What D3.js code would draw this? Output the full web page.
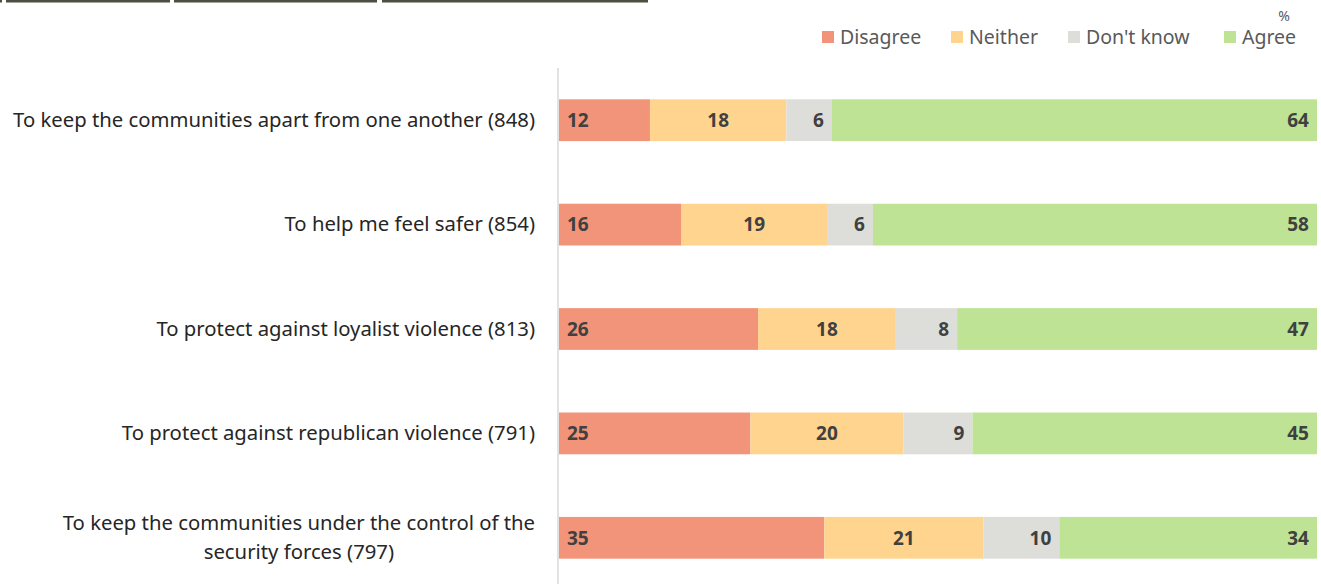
<!DOCTYPE html>
<html>
<head>
<meta charset="utf-8">
<title>Stacked bars</title>
<style>
  body { margin: 0; background: #fff; }
  svg { display: block; font-family: "Noto Sans", "Open Sans", sans-serif; }
  .cat { fill: #262626; font-size: 20.3px; }
  .val { fill: #404040; font-size: 19px; font-weight: bold; }
  .leg { fill: #595959; font-size: 19.5px; }
</style>
</head>
<body>
<script src="https://cdnjs.cloudflare.com/ajax/libs/d3/7.8.5/d3.min.js"></script>
<script>

// Data
var categories = [
  ["To keep the communities apart from one another (848)"],
  ["To help me feel safer (854)"],
  ["To protect against loyalist violence (813)"],
  ["To protect against republican violence (791)"],
  ["To keep the communities under the control of the", "security forces (797)"]
];
var seriesNames = ["Disagree", "Neither", "Don't know", "Agree"];
var disagree = [12, 16, 26, 25, 35];
var neither  = [18, 19, 18, 20, 21];
var dontKnow = [6, 6, 8, 9, 10];
var agree    = [64, 58, 47, 45, 34];
var colors = ["#F29479", "#FFD48F", "#DDDDDA", "#BEE395"];

var width = 1321, height = 584;
var margin = {top: 68, left: 559, right: 4, bottom: 0};

var svg = d3.select("body").append("svg")
    .attr("width", width)
    .attr("height", height);

// top decoration lines (cropped header tabs)
var tabs = [[0, 2], [6, 170], [174, 377], [382, 648]];
svg.selectAll(".tab")
    .data(tabs)
  .enter().append("rect")
    .attr("x", function(d) { return d[0]; })
    .attr("y", 0)
    .attr("width", function(d) { return d[1] - d[0]; })
    .attr("height", 2.5)
    .attr("fill", "#4b5040");

// Build table
var table = categories.map(function(c, i) {
  return {cat: c, idx: i, values: [disagree[i], neither[i], dontKnow[i], agree[i]]};
});
var stackData = table.map(function(d) {
  var o = {idx: d.idx};
  seriesNames.forEach(function(s, j) { o[s] = d.values[j]; });
  return o;
});
// 100% stacked: rows are normalised to full width
var stacked = d3.stack().keys(seriesNames).offset(d3.stackOffsetExpand)(stackData);

// Scales
var x = d3.scaleLinear()
    .domain([0, 1])
    .range([margin.left, width - margin.right]);
var y = d3.scaleBand()
    .domain(d3.range(categories.length))
    .range([margin.top, 590])
    .paddingInner(0.6)
    .paddingOuter(0.3);

// axis line
svg.append("line")
    .attr("x1", x(0) - 1).attr("x2", x(0) - 1)
    .attr("y1", 68).attr("y2", height)
    .attr("stroke", "#d9d9d9")
    .attr("stroke-width", 1.5);

// bars
var layers = svg.selectAll(".layer")
    .data(stacked)
  .enter().append("g")
    .attr("class", "layer")
    .attr("fill", function(d, i) { return colors[i]; });

layers.selectAll("rect")
    .data(function(d) { return d; })
  .enter().append("rect")
    .attr("x", function(d) { return x(d[0]); })
    .attr("y", function(d) { return y(d.data.idx); })
    .attr("width", function(d) { return x(d[1]) - x(d[0]); })
    .attr("height", y.bandwidth());

// value labels
layers.each(function(series, si) {
  var key = series.key;
  d3.select(this).selectAll("text")
      .data(series)
    .enter().append("text")
      .attr("class", "val")
      .attr("x", function(d) {
        if (si === 0) return x(d[0]) + 8;
        if (si === 1) return (x(d[0]) + x(d[1])) / 2;
        return x(d[1]) - 8;
      })
      .attr("y", function(d) { return y(d.data.idx) + y.bandwidth() / 2; })
      .attr("dy", "0.36em")
      .attr("text-anchor", si === 0 ? "start" : (si === 1 ? "middle" : "end"))
      .text(function(d) { return d.data[key]; });
});

// category labels, right aligned block, centred lines
var labelRight = 535;
table.forEach(function(d) {
  var g = svg.append("g");
  var cy = y(d.idx) + y.bandwidth() / 2;
  var lh = 29;
  var texts = d.cat.map(function(line, k) {
    return g.append("text")
      .attr("class", "cat")
      .attr("y", cy + (k - (d.cat.length - 1) / 2) * lh)
      .attr("dy", "0.33em")
      .text(line);
  });
  var maxW = d3.max(texts, function(t) { return t.node().getComputedTextLength(); });
  texts.forEach(function(t) {
    t.attr("text-anchor", "middle").attr("x", labelRight - maxW / 2);
  });
});

// legend
var legX = [822, 951, 1068, 1224];
var leg = svg.selectAll(".legitem")
    .data(seriesNames)
  .enter().append("g")
    .attr("transform", function(d, i) { return "translate(" + legX[i] + ",37)"; });
leg.append("rect")
    .attr("x", 0).attr("y", -6)
    .attr("width", 12).attr("height", 12)
    .attr("fill", function(d, i) { return colors[i]; });
leg.append("text")
    .attr("class", "leg")
    .attr("x", 18)
    .attr("dy", "0.36em")
    .text(function(d) { return d; });

svg.append("text")
    .attr("x", 1284).attr("y", 16)
    .attr("dy", "0.36em")
    .attr("text-anchor", "middle")
    .attr("fill", "#595959")
    .style("font-size", "14px")
    .text("%");

</script>
</body>
</html>
